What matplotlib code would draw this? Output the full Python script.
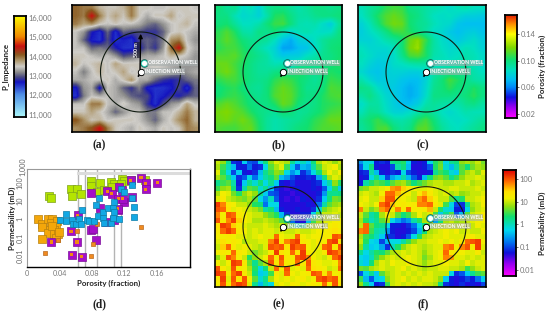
import numpy as np
import matplotlib
matplotlib.use('Agg')
import matplotlib.pyplot as plt
from matplotlib.colors import LinearSegmentedColormap
##################################################################
matplotlib.rcParams.update({'font.family': ['Lato', 'DejaVu Sans']})
W, H = 550., 313.
##################################################################
# P impedance, thousands
imp = [
 [14.0,13.9,13.9,13.6,13.5,13.5,13.6,13.9,13.5,13.5,13.4,13.4,13.5,13.5,13.5,13.4],
 [14.0,13.9,14.5,13.9,13.5,13.7,13.5,13.9,13.5,13.3,13.5,13.5,13.7,13.4,13.5,13.5],
 [13.9,13.7,13.8,13.5,13.4,13.5,13.4,13.4,13.3,13.1,13.0,13.2,13.4,13.5,13.6,13.4],
 [13.4,13.2,12.7,12.5,13.0,12.5,13.0,12.9,12.9,12.8,12.8,13.0,13.4,13.5,13.4,13.3],
 [13.4,13.0,12.6,12.5,12.9,12.5,12.6,12.5,12.9,13.0,12.9,13.1,13.8,13.9,13.4,13.2],
 [13.4,13.4,13.0,13.1,13.0,12.7,12.5,12.5,12.7,13.0,12.8,13.2,14.0,14.5,13.5,13.3],
 [13.5,13.5,13.4,13.3,13.4,13.2,12.9,13.0,13.2,13.3,13.3,13.4,13.6,13.5,13.4,13.2],
 [13.6,13.4,13.5,13.6,13.4,13.7,13.5,13.5,13.5,13.4,13.5,13.4,13.3,13.3,13.2,13.2],
 [13.4,13.1,13.4,13.6,13.4,13.5,13.7,13.4,13.5,13.4,13.4,13.4,13.3,13.1,13.2,13.3],
 [13.3,13.3,13.4,13.4,13.5,13.3,13.5,13.8,13.3,13.3,13.0,12.8,12.7,12.8,13.0,13.1],
 [12.6,13.2,13.3,12.6,13.4,13.3,13.0,12.8,13.1,12.6,12.5,12.5,12.6,12.9,12.5,13.0],
 [12.5,13.1,13.4,13.3,13.4,13.3,13.2,13.0,12.9,12.9,12.5,12.6,12.8,12.7,12.9,13.0],
 [13.4,13.4,13.9,13.9,13.4,13.3,13.5,13.3,13.2,12.8,12.5,12.9,13.2,13.3,13.7,13.4],
 [13.5,13.5,13.7,13.5,13.3,13.0,13.2,13.4,13.4,13.1,13.1,13.4,13.4,13.6,13.9,13.6],
 [14.1,13.8,13.5,13.6,13.4,13.5,13.5,13.5,13.4,13.2,13.0,13.3,13.5,13.8,14.0,13.6],
 [13.8,13.9,14.1,14.5,13.9,13.5,13.4,13.3,13.5,13.4,13.3,13.5,13.4,13.5,13.9,13.8]]
# porosity, fraction
por_b = [
 [.100,.094,.096,.084,.088,.080,.094,.098,.098,.094,.090,.094,.098,.098,.096,.098],
 [.098,.098,.088,.082,.084,.080,.090,.104,.106,.098,.092,.092,.096,.098,.098,.100],
 [.100,.102,.094,.086,.086,.090,.100,.108,.110,.100,.090,.088,.090,.084,.078,.094],
 [.106,.112,.104,.092,.090,.098,.096,.100,.090,.082,.088,.090,.086,.084,.086,.098],
 [.108,.114,.108,.100,.096,.096,.094,.086,.074,.068,.078,.080,.086,.094,.098,.100],
 [.106,.110,.110,.104,.098,.092,.086,.080,.066,.066,.072,.074,.084,.094,.100,.102],
 [.112,.112,.114,.106,.100,.096,.092,.082,.076,.078,.078,.086,.090,.096,.098,.102],
 [.116,.116,.110,.104,.098,.094,.092,.088,.090,.084,.092,.096,.096,.098,.100,.104],
 [.114,.118,.112,.102,.098,.094,.094,.098,.100,.098,.104,.100,.096,.100,.104,.102],
 [.106,.110,.110,.104,.098,.096,.098,.106,.110,.108,.102,.098,.094,.098,.108,.106],
 [.100,.104,.106,.100,.096,.094,.100,.110,.116,.112,.104,.096,.096,.100,.112,.110],
 [.102,.106,.108,.104,.098,.096,.100,.112,.116,.114,.104,.098,.098,.104,.110,.112],
 [.112,.116,.112,.106,.100,.098,.098,.104,.116,.112,.100,.096,.098,.104,.106,.108],
 [.118,.120,.116,.112,.104,.098,.096,.094,.102,.100,.094,.096,.100,.104,.110,.112],
 [.116,.118,.114,.118,.112,.102,.094,.090,.092,.094,.096,.100,.106,.110,.116,.116],
 [.112,.110,.110,.114,.116,.104,.094,.090,.092,.096,.100,.102,.108,.112,.112,.114]]
por_c = [
 [.088,.094,.098,.106,.110,.108,.098,.096,.092,.090,.088,.084,.088,.090,.086,.086],
 [.086,.094,.104,.112,.116,.112,.102,.098,.092,.086,.084,.086,.082,.078,.078,.076],
 [.080,.088,.100,.112,.118,.116,.102,.096,.094,.088,.084,.082,.074,.072,.072,.072],
 [.078,.084,.090,.098,.108,.110,.104,.098,.092,.084,.082,.076,.072,.076,.078,.074],
 [.080,.080,.084,.090,.094,.100,.116,.122,.108,.092,.084,.080,.076,.080,.084,.078],
 [.086,.082,.082,.082,.086,.100,.118,.124,.104,.092,.086,.082,.084,.088,.086,.080],
 [.088,.084,.080,.080,.084,.096,.110,.112,.104,.090,.088,.084,.086,.090,.088,.084],
 [.086,.080,.076,.078,.084,.086,.090,.092,.092,.086,.086,.088,.090,.092,.088,.084],
 [.082,.076,.074,.078,.080,.080,.078,.078,.082,.090,.094,.096,.096,.096,.090,.086],
 [.090,.082,.076,.078,.078,.074,.072,.072,.080,.094,.100,.110,.104,.098,.092,.090],
 [.098,.094,.084,.078,.076,.072,.068,.072,.082,.096,.100,.106,.100,.098,.104,.098],
 [.092,.098,.090,.082,.078,.072,.068,.072,.084,.098,.098,.098,.096,.100,.106,.098],
 [.084,.092,.092,.084,.078,.072,.072,.078,.090,.094,.092,.090,.090,.096,.098,.092],
 [.088,.096,.094,.086,.080,.080,.084,.090,.096,.092,.086,.082,.086,.090,.088,.088],
 [.096,.102,.108,.100,.092,.090,.094,.104,.110,.100,.090,.086,.084,.086,.090,.094],
 [.094,.100,.110,.112,.100,.094,.098,.112,.114,.104,.094,.088,.086,.090,.094,.098]]
# log10 permeability (mD)
perm_e = [
 [1.0,.8,.2,-1.1,-1.2,-.3,-.9,-1.0,-.2,.3,.8,1.1,1.0,.9,.2,-.2,.0,-.3,.3,.9,1.1,1.0,.8,1.0],
 [.9,.5,.0,-.4,-1.2,-1.2,-.8,-1.2,-1.1,-.2,.6,.9,1.1,.5,-.3,-.9,-.4,-.5,.1,.6,1.0,1.1,1.2,.9],
 [1.1,.4,-.2,-1.0,-.3,-1.2,-1.3,-1.1,-.4,.2,.5,.8,.7,-.2,-.6,-.3,-1.1,-.8,-.2,.3,.9,1.2,1.0,1.2],
 [.9,.6,.2,-.3,-1.1,-.9,-.2,-.8,-.3,.1,.3,.6,-.4,-.6,-1.0,-1.2,-1.2,-1.1,-1.2,-.5,.2,.9,1.1,1.0],
 [.2,.5,.6,.1,-1.2,-.3,.2,-.1,.3,-.2,.2,-.3,-1.2,-1.3,-1.1,-1.3,-1.3,-1.3,-1.2,-1.1,-.3,.1,.8,.4],
 [.5,.8,.9,.3,-1.1,.1,.6,.5,-.1,.2,-.4,-1.1,-1.3,-1.4,-1.3,-1.2,-1.3,-1.3,-1.2,-1.3,-.9,-.2,.4,-.3],
 [.9,1.2,1.1,.7,.4,.8,1.0,.8,.2,-.3,-.9,-1.0,-1.3,-1.3,-1.4,-1.3,-1.3,-1.3,-1.3,-1.2,-.6,.2,.2,.3],
 [1.1,1.3,1.0,.9,.8,.7,.9,.6,-.2,-.6,.0,-.9,-1.3,-1.4,-1.3,-1.4,-1.2,-1.3,-1.3,-1.1,-.3,.3,.7,.6],
 [2.1,1.8,1.3,1.2,1.0,1.0,.8,.4,.3,-.8,-.2,-.2,-1.3,-1.3,-1.3,-1.3,-1.3,-1.2,-1.3,-.8,.1,.6,.8,.9],
 [2.0,1.9,1.4,1.1,1.2,1.1,1.0,.9,.7,.1,.3,-.4,-1.2,-1.3,-1.3,-1.2,-1.3,-1.3,-1.1,-.1,.7,.9,1.0,1.1],
 [1.8,1.2,2.0,1.9,1.3,1.2,1.1,1.0,1.0,.8,.6,.4,-.4,-1.1,-1.3,-1.3,-1.2,-1.2,-.2,.6,1.0,1.0,1.1,1.0],
 [2.0,1.3,1.8,2.1,1.5,1.2,1.1,.9,.9,1.0,.9,.8,.6,.3,-.8,-1.2,-1.3,-.4,.5,.9,1.1,1.1,1.2,1.2],
 [1.4,2.1,2.0,1.5,1.2,1.1,1.0,1.0,1.0,1.1,1.0,.9,1.0,.8,.5,-.2,.1,.8,1.0,1.2,1.1,1.2,1.3,1.2],
 [1.3,1.9,2.1,1.9,1.3,1.2,1.0,1.1,1.0,1.1,1.1,1.0,1.1,1.0,1.0,1.1,1.0,1.0,1.1,1.2,1.2,1.3,1.4,1.3],
 [1.2,1.2,1.3,1.2,1.1,1.1,1.0,1.1,1.2,1.1,1.1,1.9,1.2,1.1,1.1,1.9,1.2,1.1,1.2,1.2,1.3,1.2,2.0,1.9],
 [1.1,1.4,1.2,1.3,1.2,.9,1.0,1.0,1.1,1.1,1.8,2.1,1.3,1.8,2.0,2.1,1.3,1.2,1.1,1.3,1.2,2.0,2.1,1.4],
 [1.0,1.5,1.9,1.3,1.1,1.2,1.1,1.0,.9,1.1,2.0,1.9,2.0,1.4,2.1,1.9,2.0,1.2,1.1,1.2,1.9,2.0,1.3,2.0],
 [1.2,1.3,1.2,1.9,1.3,1.2,1.0,.7,.9,1.0,1.3,2.1,1.4,1.2,1.9,1.4,2.1,1.3,1.2,1.1,1.3,2.1,2.0,1.8],
 [.8,1.1,2.0,1.8,1.2,1.0,.4,.8,1.0,1.2,1.9,1.3,2.0,1.3,1.2,2.0,2.1,1.8,1.2,1.1,1.0,1.2,1.9,2.1],
 [1.2,1.0,1.2,2.1,2.0,1.3,.7,.2,.6,.9,2.0,1.3,1.9,1.2,1.3,1.9,1.3,2.0,1.3,1.2,1.1,1.1,1.2,1.8],
 [2.0,1.3,1.1,2.0,1.3,1.2,.9,.4,-.2,.3,1.0,1.9,1.2,2.0,1.1,1.2,1.1,1.9,1.4,1.3,1.2,1.0,1.1,1.9],
 [2.1,2.0,1.2,1.9,2.1,1.3,1.0,.3,-.3,-.1,.5,1.3,1.1,1.9,1.2,1.1,1.2,1.3,2.0,1.9,1.3,1.8,1.2,1.3],
 [1.3,2.1,1.1,2.0,1.4,2.0,1.2,.6,-.1,.2,.9,1.2,1.1,1.2,1.1,1.2,1.3,1.1,1.2,2.0,2.1,1.9,2.0,1.3],
 [1.2,2.0,1.2,1.9,2.1,2.0,1.1,.2,-.4,.1,-.2,1.1,1.2,1.1,1.3,1.2,1.1,1.2,1.3,1.2,1.9,1.2,2.0,1.4]]
perm_f = [
 [-.6,-.2,-.2,-1.2,-1.1,-1.2,.2,.3,.4,-.3,-1.2,-1.3,-1.2,-.2,.4,.6,-.2,.2,.3,.8,.9,.8,1.0,.7],
 [-.9,-.2,.3,-1.2,-1.3,-1.3,-1.0,.1,.3,-.4,-1.3,-1.3,-1.2,-.9,.4,.7,-.1,-.4,.1,.6,.3,.7,.9,.8],
 [-1.2,-1.1,.1,-.4,-1.2,-1.3,-1.1,-1.2,-.2,-1.0,-1.2,-1.3,-1.3,-1.2,.2,.5,.3,-.1,-.3,.6,.9,1.0,.8,1.1],
 [-1.3,-1.2,-.2,.2,-.3,-1.0,-.5,-.3,.1,-.4,-.9,-1.2,-.4,.3,.7,.8,.6,.2,.5,.8,1.0,1.0,1.1,1.0],
 [-1.2,.1,.4,.6,.5,.3,.6,.8,.9,.6,.3,.5,.7,.9,1.0,1.0,.9,.9,1.0,1.0,1.1,.9,1.0,1.1],
 [.7,.8,1.0,1.0,1.1,1.3,1.7,1.8,1.5,1.3,1.2,1.1,1.1,1.2,1.1,1.0,1.0,1.1,1.1,1.0,1.0,1.0,1.1,1.0],
 [1.0,1.1,1.0,.9,1.2,1.9,1.9,1.6,1.3,1.2,1.0,1.3,1.6,1.3,1.1,1.0,1.1,.9,1.0,.8,.9,1.0,1.0,1.1],
 [1.1,1.2,1.0,1.0,1.5,2.0,2.0,1.3,1.2,1.1,1.0,1.7,1.9,1.5,1.2,1.0,1.0,.6,.2,.4,1.0,1.0,1.1,1.2],
 [1.2,1.1,1.0,1.2,1.9,2.1,1.6,1.2,1.3,1.2,1.3,1.8,1.8,1.9,1.3,1.1,.5,-.2,-1.0,-1.1,.2,.9,1.0,1.2],
 [1.8,1.0,.7,.9,1.7,1.9,1.2,1.8,1.3,1.9,1.3,1.2,1.3,1.6,1.0,.4,-.1,-.3,-1.2,-1.2,-.2,.8,1.0,1.1],
 [1.0,.6,.1,.3,.9,1.3,1.0,.6,.3,.5,.9,1.2,1.0,1.1,.5,-.3,.2,.6,-.9,-.4,.6,1.0,1.1,1.3],
 [.9,.4,.0,.2,.6,.9,-.2,-.5,-.8,-.6,.1,.4,.9,1.0,-.5,.3,.9,1.0,.8,.9,1.0,1.1,1.2,1.2],
 [1.0,1.9,.6,.3,.2,-.2,-1.2,-1.2,-1.3,-1.1,-.8,-.2,.3,.6,.9,1.0,1.1,1.1,1.0,1.1,1.1,1.0,1.2,1.1],
 [1.8,1.9,.5,.1,.0,-.6,-1.2,-1.3,-1.3,-1.2,-1.0,-.4,.3,.9,1.0,1.1,1.2,1.1,1.2,1.0,1.1,1.0,1.0,1.2],
 [.9,.5,.3,.0,-.3,-1.1,-1.1,-1.3,-1.2,-.9,-.2,.4,.9,1.0,1.1,1.1,1.2,1.1,1.1,1.1,1.2,1.3,1.1,1.1],
 [1.0,.4,-.2,-.3,-1.0,-.4,-.2,-.2,.1,.5,.8,1.0,1.0,1.1,1.1,1.2,1.1,1.2,1.1,1.3,1.9,2.0,2.1,1.2],
 [.8,.1,-.3,-.2,-.5,-1.1,.0,.4,.8,1.0,1.1,1.0,.9,1.0,1.1,1.1,1.8,1.9,1.2,1.8,2.0,1.3,2.1,1.1],
 [.2,-.2,.1,.4,.3,.6,.9,1.0,1.1,1.0,1.1,1.0,.8,1.0,1.1,1.2,1.9,1.3,1.2,1.2,1.1,1.1,1.3,1.0],
 [-.2,-.3,.0,.5,.8,1.0,1.1,1.0,1.1,1.2,1.1,1.0,.7,.9,1.1,1.2,1.8,1.7,1.1,1.1,1.0,1.1,1.0,1.1],
 [-.1,-.3,.3,.9,1.1,1.0,1.2,1.1,1.1,1.2,1.1,1.0,.8,1.0,1.1,1.1,1.2,1.1,1.1,1.0,1.2,1.0,1.1,1.1],
 [.7,.6,.9,1.0,1.1,1.0,1.0,1.1,1.2,1.0,1.1,1.0,.9,1.0,1.0,1.1,1.1,1.0,1.0,.9,.5,.8,1.0,1.1],
 [-.9,-.2,.2,-.3,.6,.9,1.0,1.1,1.0,1.1,1.0,1.1,1.0,1.1,1.0,1.0,1.0,-.2,-1.1,-.9,-.3,.2,.5,.6],
 [.5,-.4,-.9,-.3,-.2,.8,1.0,1.1,1.2,1.0,1.1,1.0,1.1,1.1,1.0,.8,-.3,-1.2,-1.3,-1.2,-1.0,-1.2,-.8,-.3],
 [.8,.2,-.3,-1.2,-1.1,.5,1.0,1.1,1.0,1.1,1.0,1.1,1.0,1.0,.9,.3,-1.1,-1.2,-1.3,-1.1,-1.3,-1.2,-1.3,-1.0]]
##################################################################
# crossplot (d): porosity, permeability
lime_x = [.0269,.0298,.0542,.0616,.0554,.067,.0785,.0794,.0897,.086,.0947,.103,.1067,.1042,.1166,.12,.128,.146,.1154]
lime_y = [20,15,44,44,20,25,123,63,100,30,42,110,89,58,166,123,135,135,81]
gold_x = [.0136,.0186,.019,.0265,.0314,.0298,.0368,.0356,.0327,.0285,.0265,.0327,.038,.0356,.019,.0306,.0389]
gold_y = [1.0,.58,.38,1.0,1.0,.66,.78,.38,.27,.25,.17,.15,.15,.1,.09,.42,.2]
small_x = [.0219,.038,.0612,.081,.0785,.1406,.086]
small_y = [.014,.074,.22,.044,.0105,.4,.56]
dot_x = [.0298,.055,.0674,.0616,.0542,.0624,.0992,.1042,.112,.1124,.1178,.128,.1406,.1464,.1464,.1604,.1075]
dot_y = [.058,.012,.009,.058,.23,1.65,35,25,3.8,13.5,13.5,135,186,91,44,100,.89]
purple_x = [.0785,.0794,.0814,.0856,.0897,.114,.1166,.1195,.1294,.1124,.098]
purple_y = [26,.25,.31,.074,4.3,58,40,9,16,3.4,.7]
blue_x = [.0401,.0484,.0475,.0554,.0566,.0608,.0645,.0678,.0666,.074,.0761,.0823,.0877,.0885,.0852,.0939,.0935,.0947,.103,.1,.1058,.1067,.1075,.1058,.1133,.1154,.12,.1298,.1298,.1315,.1315]
blue_y = [.89,2.0,.81,.89,.58,.58,1.1,3.1,.58,.95,.81,.81,1.45,15,5.8,2.5,1.2,.66,.66,4.4,4.4,9,2.5,1.2,1.0,47,31,71,15,4.7,1.35]
cut_x = [.0626, .0712, .0860, .1078, .1158]
cut_y = 339
##################################################################
imp_ticks = [11, 12, 13, 14, 15, 16]
imp_labels = ['11,000', '12,000', '13,000', '14,000', '15,000', '16,000']
por_ticks = [.02, .06, .10, .14]
por_labels = ['0.02', '0.06', '0.10', '0.14']
perm_ticks = [-2, -1, 0, 1, 2]
perm_labels = ['0.01', '0.1', '1', '10', '100']
##################################################################
def make_cmap(vmin, vmax, nodes):
    return LinearSegmentedColormap.from_list('c', [((v - vmin)/(vmax - vmin), c) for v, c in nodes], N=256)

imp_lim = (10.9, 16.1)
imp_cmap = make_cmap(*imp_lim, [(10.9, '#a8f4fa'), (12.0, '#4f8fe6'), (12.65, '#1414c0'), (12.9, '#4a4a80'), (13.15, '#8a8a8a'),
                                (13.45, '#cfcdc8'), (13.75, '#b09a70'), (14.05, '#8a5a20'), (14.5, '#c81010'), (15.0, '#f08a00'), (16.1, '#ffff00')])
por_lim = (.014, .170)
por_cmap = make_cmap(*por_lim, [(.014, '#ff00ff'), (.032, '#8a00f0'), (.045, '#1010e0'), (.060, '#0088f8'), (.072, '#00c0f0'), (.086, '#00e0c0'),
                                (.102, '#10e070'), (.120, '#80d800'), (.140, '#ffff00'), (.155, '#ff9000'), (.170, '#e01000')])
perm_lim = (-2.26, 2.39)
perm_cmap = make_cmap(*perm_lim, [(-2.26, '#ff00ff'), (-1.7, '#9000f0'), (-1.25, '#1010d8'), (-0.8, '#0070f0'), (-0.25, '#00d8f0'), (0.35, '#10e070'),
                                  (0.8, '#90e010'), (1.15, '#f0f000'), (1.45, '#ffe000'), (1.9, '#ff6a00'), (2.39, '#e00000')])
##################################################################
fig = plt.figure(figsize=(5.5, 3.13), dpi=100)

def add_ax(x0, y0, x1, y1, **kw):
    # pixel box, y from the top
    return fig.add_axes([x0/W, 1 - y1/H, (x1 - x0)/W, (y1 - y0)/H], **kw)

overlay = add_ax(0, 0, W, H, zorder=10)
overlay.set_xlim(0, W)
overlay.set_ylim(H, 0)
overlay.axis('off')

def draw_map(data, cmap, lim, box, cx, cy, interp):
    ax = add_ax(*box)
    ax.imshow(data, cmap=cmap, vmin=lim[0], vmax=lim[1], interpolation=interp, aspect='auto')
    ax.set_xticks([])
    ax.set_yticks([])
    for s in ax.spines.values():
        s.set_linewidth(1.2)
    th = np.linspace(0, 2*np.pi, 200)
    overlay.plot(cx + 40*np.cos(th), cy + 40*np.sin(th), color='#101a10', lw=0.8)
    # wells and their labels
    ox, oy = cx + 3.6, cy - 9.2
    overlay.plot([cx - 2, cx], [cy + 4, cy], color='k', lw=1.2)
    overlay.scatter([ox], [oy], s=26, color='#0a5a50', zorder=3)
    overlay.scatter([ox], [oy], s=16, color='#40d8c0', zorder=3)
    overlay.scatter([ox], [oy], s=7, color='w', zorder=4)
    overlay.scatter([cx], [cy], s=18, color='k', zorder=3)
    overlay.scatter([cx], [cy], s=8, color='w', zorder=4)
    bbox = dict(boxstyle='square,pad=0.12', fc='#a8b0b0', ec='none', alpha=0.6)
    overlay.text(cx + 7.5, oy, 'OBSERVATION WELL', color='w', fontsize=3.6, fontweight='bold', va='center', ha='left', bbox=bbox, zorder=5)
    overlay.text(cx + 4.5, cy - 0.5, 'INJECTION WELL', color='w', fontsize=3.6, fontweight='bold', va='center', ha='left', bbox=bbox, zorder=5)

draw_map(imp, imp_cmap, imp_lim, (72, 5, 199, 132), 140.5, 72, 'bilinear')
draw_map(por_b, por_cmap, por_lim, (214.5, 5, 342, 132), 283, 72, 'bilinear')
draw_map(por_c, por_cmap, por_lim, (358, 5, 485.5, 132), 426, 72, 'bilinear')
draw_map(perm_e, perm_cmap, perm_lim, (214.5, 159.5, 342, 287), 283, 226.7, 'nearest')
draw_map(perm_f, perm_cmap, perm_lim, (358, 159.5, 485.5, 287), 426, 226.7, 'nearest')

# 500 m arrow in (a)
overlay.annotate('', xy=(140.7, 31), xytext=(140, 72), arrowprops=dict(arrowstyle='-|>', color='k', lw=1.0, mutation_scale=6))
overlay.text(137, 50, '500 m', color='w', fontsize=3.8, fontweight='bold', rotation=90, ha='center', va='center',
             bbox=dict(boxstyle='square,pad=0.1', fc='#202030', ec='none', alpha=0.7))
##################################################################
def draw_cbar(box, cmap, lim, ticks, labels, label, lx, out):
    ax = add_ax(*box)
    ax.imshow(np.linspace(lim[1], lim[0], 256)[:, None], cmap=cmap, vmin=lim[0], vmax=lim[1], aspect='auto', extent=[0, 1, lim[0], lim[1]])
    ax.set_xticks([])
    ax.yaxis.tick_right()
    ax.set_yticks(ticks)
    ax.set_yticklabels(labels, fontsize=5.4, color='#777777')
    ax.tick_params(axis='y', length=out, width=0.5, pad=1.5, color='#333333')
    for s in ax.spines.values():
        s.set_linewidth(1.3)
    overlay.text(lx, (box[1] + box[3])/2., label, rotation=90, ha='center', va='center', fontsize=5.7, fontweight='bold', color='#222222')

draw_cbar((14, 16, 26, 116.5), imp_cmap, imp_lim, imp_ticks, imp_labels, 'P_Impedance', 6, 0)
draw_cbar((504.5, 14.5, 516.5, 118), por_cmap, por_lim, por_ticks, por_labels, 'Porosity (fraction)', 542.5, 1.5)
draw_cbar((503, 170, 515.5, 276), perm_cmap, perm_lim, perm_ticks, perm_labels, 'Permeability (mD)', 542, 1.5)
##################################################################
ax = add_ax(27, 169, 190, 267)
ax.set_xlim(0, .201)
ax.set_yscale('log')
ax.minorticks_off()
for x in cut_x:
    ax.axvline(x, color='#b4b4b4', lw=1.0, zorder=1)
ax.plot([cut_x[0], .201], [cut_y, cut_y], color='#dcdcdc', lw=2.2, zorder=1)

def sq(x, y, c, e, s, mk='s', lw=0.5, z=3):
    ax.scatter(x, y, s=s, marker=mk, c=c, edgecolors=e, linewidths=lw, zorder=z)

sq(lime_x, lime_y, '#b4e400', '#7fa31a', 34)
sq(gold_x, gold_y, '#f4a70a', '#b8810f', 26)
sq(purple_x, purple_y, '#a40fc8', '#7d109a', 34, z=4)
sq(dot_x, dot_y, '#a40fc8', '#7d109a', 28, z=4)
sq(dot_x, dot_y, '#f08a10', 'none', 5, lw=0, z=5)
sq(small_x, small_y, '#f08a20', '#b86a20', 8, z=4)
sq(blue_x, blue_y, '#12a8e4', '#0c7ca8', 24, z=6)

ax.set_xticks([0, .04, .08, .12, .16])
ax.set_xticklabels(['0', '0.04', '0.08', '0.12', '0.16'], fontsize=5.2, color='#777777')
ax.set_yticks([.01, .1, 1, 10, 100])
ax.set_yticklabels(['0.01', '0.1', '1', '10', '100'], fontsize=5.2, color='#666666', rotation=90, va='center')
ax.set_ylim(10**-2.6, 10**2.75)
ax.minorticks_off()
# top label sits past the axis end
overlay.text(22.5, 166.5, '1,000', fontsize=5.2, color='#666666', rotation=90, ha='center', va='center')
ax.tick_params(length=0, pad=2.5)
ax.spines['left'].set_color('#999999')
ax.spines['top'].set_color('#999999')
ax.spines['right'].set_linewidth(1.0)
ax.spines['bottom'].set_linewidth(1.0)
ax.set_xlabel('Porosity (fraction)', fontsize=5.7, fontweight='bold', color='#222222', labelpad=1.5)
ax.set_ylabel('Permeability (mD)', fontsize=5.7, fontweight='bold', color='#222222', labelpad=0.5)
##################################################################
caption_xy = [(99.5, 145), (279, 145), (423, 145), (99.5, 304), (279, 304), (423, 304)]
captions = ['(a)', '(b)', '(c)', '(d)', '(e)', '(f)']
for (x, y), t in zip(caption_xy, captions):
    overlay.text(x, y, t, ha='center', va='center', fontsize=8.4, family='Liberation Serif', fontweight='bold', color='#222222')
##################################################################
fig.savefig('out.png', dpi=100)
